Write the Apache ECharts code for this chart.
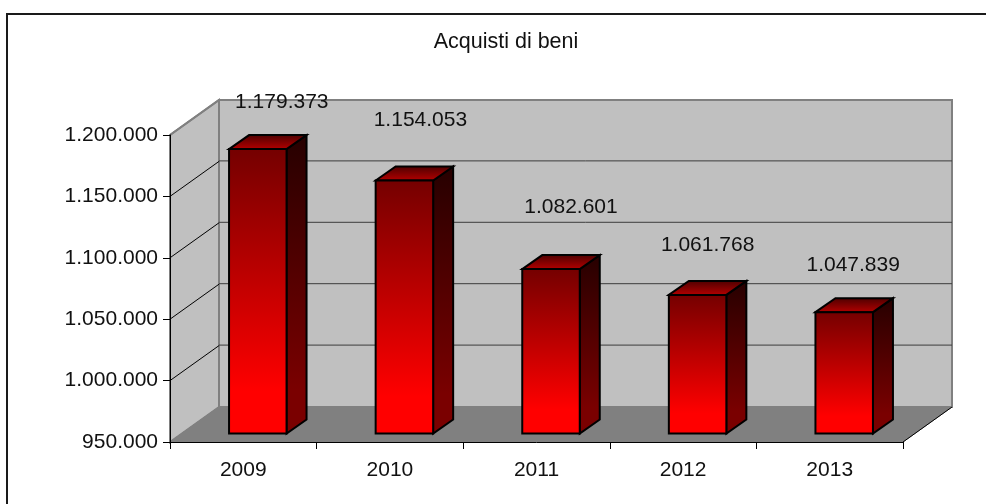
<!DOCTYPE html>
<html><head><meta charset="utf-8">
<style>html,body{margin:0;padding:0;background:#fff}#c{width:986px;height:504px}</style>
<script src="https://cdn.jsdelivr.net/npm/echarts@6/dist/echarts.min.js"></script>
</head><body><div id="c"></div>
<script>
const categories = ['2009','2010','2011','2012','2013'];
const values = [1179373,1154053,1082601,1061768,1047839];
const chartTitle = 'Acquisti di beni';
const axisMin = 950000, axisMax = 1200000, axisStep = 50000;

const FONT = '"Liberation Sans", Arial, sans-serif';
const depth = [49, -35];       // chart box depth
const barDepth = [20, -14];    // bar depth
const barRatio = 57.5 / 146.6;
const labelNudge = [[24,-47],[16,-60],[20,-62],[10,-50],[9,-47]];

const fmt = v => String(v).replace(/\B(?=(\d{3})+$)/g, '.');
const ticks = [];
for (let v = axisMin; v <= axisMax; v += axisStep) ticks.push(v);

const chart = echarts.init(document.getElementById('c'), null, {renderer:'canvas'});

function renderBox(params, api) {
  const band = api.size([1,0])[0];
  const x0 = api.coord([0, axisMin])[0] - band/2;
  const x1 = api.coord([categories.length-1, axisMin])[0] + band/2;
  const yb = api.coord([0, axisMin])[1];
  const yt = api.coord([0, axisMax])[1];
  const [dx, dy] = depth;
  const wallFill = '#c0c0c0', edge = '#808080';
  const poly = (pts, fill, stroke, w) => ({type:'polygon', shape:{points:pts},
    style:{fill:fill, stroke:stroke, lineWidth:w, lineJoin:'miter'}});
  const line = (a,b,stroke,w) => ({type:'line', shape:{x1:a[0],y1:a[1],x2:b[0],y2:b[1]},
    style:{stroke:stroke, lineWidth:w}});
  const ch = [];
  ch.push(poly([[x0+dx,yt+dy],[x1+dx,yt+dy],[x1+dx,yb+dy],[x0+dx,yb+dy]], wallFill, edge, 2));
  ch.push(poly([[x0,yt],[x0+dx,yt+dy],[x0+dx,yb+dy],[x0,yb]], wallFill, edge, 2));
  ch.push(poly([[x0,yb],[x0+dx,yb+dy],[x1+dx,yb+dy],[x1,yb]], edge, edge, 1));
  ticks.forEach(v => {
    if (v === axisMin) return;
    const y = api.coord([0,v])[1];
    if (v !== axisMax) {
      ch.push(line([x0,y],[x0+dx,y+dy],'#000',1));
      ch.push(line([x0+dx,y+dy-0.5],[x1+dx,y+dy-0.5],'#3c3c3c',1));
    }
  });
  ch.push(line([x0,yb],[x0+dx,yb+dy],'#808080',1));
  ch.push(line([x1,yb],[x1+dx,yb+dy],'#000',1));
  ch.push(line([x0,yt],[x0+dx,yt+dy],'#808080',2));
  return {type:'group', children:ch, silent:true};
}

function grad(c0, c1, c2) {
  return new echarts.graphic.LinearGradient(0,0,0,1,[
    {offset:0,color:c0},{offset:0.85,color:c1},{offset:1,color:c2||c1}]);
}

function renderBar(params, api) {
  const i = api.value(0), v = api.value(1);
  const band = api.size([1,0])[0];
  const w = band * barRatio;
  const top = api.coord([i, v]);
  const base = api.coord([i, axisMin]);
  const xl = top[0]-w/2, xr = top[0]+w/2, yt = top[1], yb = base[1];
  const [dx, dy] = barDepth;
  const s = {stroke:'#000', lineWidth:2, lineJoin:'miter'};
  const nudge = labelNudge[params.dataIndex];
  return {type:'group', children:[
    {type:'polygon', shape:{points:[[xr,yt],[xr+dx,yt+dy],[xr+dx,yb+dy],[xr,yb]]},
      style:Object.assign({fill:grad('#260000','#7a0000')}, s)},
    {type:'polygon', shape:{points:[[xl,yt],[xl+dx,yt+dy],[xr+dx,yt+dy],[xr,yt]]},
      style:Object.assign({fill:grad('#4a0000','#a80000')}, s)},
    {type:'rect', shape:{x:xl,y:yt,width:w,height:yb-yt},
      style:Object.assign({fill:grad('#740000','#ff0000')}, s)},
    {type:'text', x:top[0]+nudge[0], y:yt+nudge[1], z2:10,
      style:{text:fmt(v), fill:'#111', font:'21px '+FONT, align:'center', verticalAlign:'middle'}}
  ]};
}

chart.setOption({
  animation:false,
  backgroundColor:'#fff',
  title:{text:chartTitle, left:501, top:26, textAlign:'center',
    textStyle:{fontFamily:FONT, fontSize:21.5, fontWeight:'normal', color:'#111'}},
  graphic:[
    {type:'line', silent:true, shape:{x1:7,y1:14,x2:986,y2:14}, style:{stroke:'#1a1a1a', lineWidth:2}},
    {type:'line', silent:true, shape:{x1:7,y1:13,x2:7,y2:504}, style:{stroke:'#1a1a1a', lineWidth:2}}
  ],
  grid:[
    {left:170, right:83, top:135, bottom:62},
    {left:184.5, width:733, top:123.5, height:310}
  ],
  xAxis:[
    {type:'category', gridIndex:0, data:categories, z:5,
     axisLine:{show:true,lineStyle:{color:'#000',width:1}},
     axisTick:{show:true,length:7,alignWithLabel:false,lineStyle:{color:'#000'}},
     axisLabel:{fontFamily:FONT,fontSize:21,color:'#111',margin:18},
     splitLine:{show:false}},
    {type:'category', gridIndex:1, data:categories, show:false}
  ],
  yAxis:[
    {type:'value', gridIndex:0, min:axisMin, max:axisMax, interval:axisStep, z:5,
     axisLine:{show:true,lineStyle:{color:'#000',width:1}},
     axisTick:{show:true,length:7,lineStyle:{color:'#000'}},
     axisLabel:{fontFamily:FONT,fontSize:21,color:'#111',margin:12,formatter:fmt},
     splitLine:{show:false}},
    {type:'value', gridIndex:1, min:axisMin, max:axisMax, interval:axisStep, show:false}
  ],
  series:[
    {type:'custom', name:'box', xAxisIndex:0, yAxisIndex:0, z:1, silent:true,
     renderItem:renderBox, data:[[0,axisMin]], clip:false, tooltip:{show:false}},
    {type:'custom', name:chartTitle, xAxisIndex:1, yAxisIndex:1, z:2, silent:true,
     renderItem:renderBar, clip:false,
     encode:{x:0,y:1},
     data:values.map((v,i)=>[i,v])}
  ]
});
</script></body></html>
